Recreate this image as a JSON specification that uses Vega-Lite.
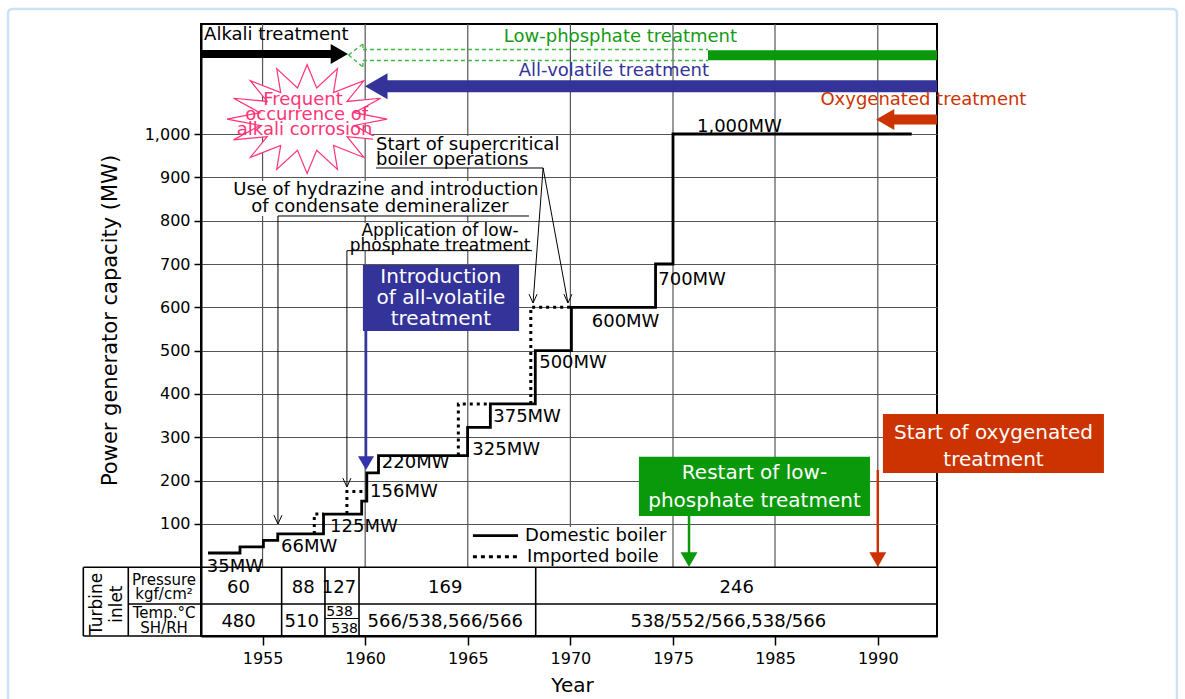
{
"$schema": "https://vega.github.io/schema/vega-lite/v6.json",
"width": 736,
"height": 612,
"autosize": {"type": "none"},
"padding": {"left": 201, "top": 24, "right": 248, "bottom": 63},
"background": "white",
"config": {
  "font": "DejaVu Sans",
  "view": {"stroke": "black", "strokeWidth": 2},
  "axis": {"domainColor": "black", "domainWidth": 2, "tickColor": "black", "tickWidth": 1.5, "labelColor": "black", "titleColor": "black", "labelFont": "DejaVu Sans", "titleFont": "DejaVu Sans", "titleFontWeight": "normal"}
},
"encoding": {
  "x": {"field": "x", "type": "quantitative",
    "scale": {"domain": [1952, 1975, 1985, 1992.88], "range": [0, 472, 574, 736], "nice": false, "zero": false},
    "axis": {"values": [1955, 1960, 1965, 1970, 1975, 1985, 1990], "format": "d", "grid": false, "tickSize": 9, "labelFontSize": 16, "labelPadding": 5, "labelFlush": false, "title": "Year", "titleFontSize": 20, "titleX": 371, "titleY": 49, "titleAlign": "center", "titleBaseline": "middle"}},
  "y": {"field": "y", "type": "quantitative",
    "scale": {"domain": [-158.5, 1253.9], "nice": false, "zero": false},
    "axis": {"values": [100, 200, 300, 400, 500, 600, 700, 800, 900, 1000], "format": ",d", "grid": true, "gridColor": "#555555", "gridWidth": 1.2, "gridOpacity": 1, "tickSize": 7, "labelFontSize": 16, "labelPadding": 4, "title": "Power generator capacity (MW)", "titleFontSize": 21, "titleX": -91, "titleY": 296, "titleAngle": 270, "titleAlign": "center", "titleBaseline": "middle"}}
},
"layer": [
  {"data": {"values": [{"x": 1942.6, "x2": 2004.55, "y": 1288.5, "y2": -445}]},
   "mark": {"type": "rect", "fill": "white", "fillOpacity": 0, "stroke": "#cde1f5", "strokeWidth": 2.5, "cornerRadius": 4},
   "encoding": {"x2": {"field": "x2"}, "y2": {"field": "y2"}}},
  {"data": {"values": [{"x": 1955, "y": 0, "y2": 1253.9}, {"x": 1960, "y": 0, "y2": 1253.9}, {"x": 1965, "y": 0, "y2": 1253.9}, {"x": 1970, "y": 0, "y2": 1253.9}, {"x": 1975, "y": 0, "y2": 1253.9}, {"x": 1985, "y": 0, "y2": 1253.9}, {"x": 1990, "y": 0, "y2": 1253.9}]},
   "mark": {"type": "rule", "color": "#555555", "strokeWidth": 1.2},
   "encoding": {"y2": {"field": "y2"}}},
  {"data": {"values": [{"x": 1957.17, "y": 1034.5}]},
   "mark": {"type": "point", "shape": "M1,0L0.59,-0.08L0.92,-0.26L0.5,-0.22L0.71,-0.48L0.33,-0.33L0.38,-0.63L0.12,-0.39L0,-0.68L-0.12,-0.39L-0.38,-0.63L-0.33,-0.33L-0.71,-0.48L-0.5,-0.22L-0.92,-0.26L-0.59,-0.08L-1,0L-0.59,0.08L-0.92,0.26L-0.5,0.22L-0.71,0.48L-0.33,0.33L-0.38,0.63L-0.12,0.39L0,0.68L0.12,0.39L0.38,0.63L0.33,0.33L0.71,0.48L0.5,0.22L0.92,0.26L0.59,0.08Z", "size": 25600, "filled": true, "fill": "white", "stroke": "#ff3377", "strokeWidth": 1.2, "opacity": 1}},
  {"data": {"values": [
     {"x": 1965.06, "x2": 1974.95, "y": 93.1, "y2": 0.8},
     {"x": 1960.38, "x2": 1969.79, "y": 995.4, "y2": 921.6},
     {"x": 1953.41, "x2": 1968.62, "y": 891.6, "y2": 810.8},
     {"x": 1959.26, "x2": 1968.13, "y": 794.7, "y2": 730.8}]},
   "mark": {"type": "rect", "fill": "white"},
   "encoding": {"x2": {"field": "x2"}, "y2": {"field": "y2"}}},
  {"data": {"values": [
     {"x": 1959.89, "x2": 1967.5, "y": 697.7, "y2": 545.4, "g": "blue"},
     {"x": 1973.34, "x2": 1989.62, "y": 255.3, "y2": 118.5, "g": "gbox"},
     {"x": 1990.25, "x2": 2001.0, "y": 353.9, "y2": 217.7, "g": "orange"}]},
   "mark": {"type": "rect"},
   "encoding": {"x2": {"field": "x2"}, "y2": {"field": "y2"},
     "color": {"field": "g", "type": "nominal", "scale": {"domain": ["k", "green", "blue", "orange", "pink", "gbox", "barrow"], "range": ["#000000", "#159a15", "#333399", "#cc3300", "#ff3377", "#0a990a", "#3333aa"]}, "legend": null}}},
  {"data": {"values": [
     {"x": 1946.265, "x2": 1992.88, "y": 0, "y2": 0},
     {"x": 1948.457, "x2": 1992.88, "y": -84.6, "y2": -84.6},
     {"x": 1946.265, "x2": 1952, "y": -158.5, "y2": -158.5},
     {"x": 1946.265, "x2": 1946.265, "y": -158.5, "y2": 0},
     {"x": 1948.457, "x2": 1948.457, "y": -158.5, "y2": 0},
     {"x": 1955.93, "x2": 1955.93, "y": -158.5, "y2": 0},
     {"x": 1958.04, "x2": 1958.04, "y": -158.5, "y2": 0},
     {"x": 1959.7, "x2": 1959.7, "y": -158.5, "y2": 0},
     {"x": 1968.31, "x2": 1968.31, "y": -158.5, "y2": 0}]},
   "mark": {"type": "rule", "color": "black", "strokeWidth": 1.6},
   "encoding": {"x2": {"field": "x2"}, "y2": {"field": "y2"}}},
  {"data": {"values": [
     {"x": 1958.04, "x2": 1959.66, "y": -118.1, "y2": -118.1},
     {"x": 1960.53, "x2": 1968.67, "y": 921.6, "y2": 921.6},
     {"x": 1968.67, "x2": 1968.18, "y": 921.6, "y2": 610.0},
     {"x": 1968.67, "x2": 1969.88, "y": 921.6, "y2": 610.0},
     {"x": 1955.75, "x2": 1967.98, "y": 810.8, "y2": 810.8},
     {"x": 1955.75, "x2": 1955.75, "y": 810.8, "y2": 100},
     {"x": 1959.11, "x2": 1968.13, "y": 730.8, "y2": 730.8},
     {"x": 1959.11, "x2": 1959.11, "y": 730.8, "y2": 185.4}]},
   "mark": {"type": "rule", "color": "black", "strokeWidth": 1},
   "encoding": {"x2": {"field": "x2"}, "y2": {"field": "y2"}}},
  {"data": {"values": [
     {"x": 1959.19, "x2": 1959.89, "y": 1182.4, "y2": 1207.9},
     {"x": 1959.19, "x2": 1959.89, "y": 1182.4, "y2": 1154.7},
     {"x": 1959.89, "x2": 1959.89, "y": 1207.9, "y2": 1195.1},
     {"x": 1959.89, "x2": 1959.89, "y": 1154.7, "y2": 1169.7},
     {"x": 1959.89, "x2": 1978.43, "y": 1195.1, "y2": 1195.1},
     {"x": 1959.89, "x2": 1978.43, "y": 1169.7, "y2": 1169.7}]},
   "mark": {"type": "rule", "color": "#3cb83c", "strokeWidth": 1.3, "strokeDash": [4, 3]},
   "encoding": {"x2": {"field": "x2"}, "y2": {"field": "y2"}}},
  {"data": {"values": [{"x": 1952, "x2": 1958.6, "y": 1184.7}]},
   "mark": {"type": "rule", "color": "black", "strokeWidth": 8},
   "encoding": {"x2": {"field": "x2"}}},
  {"data": {"values": [{"x": 1978.43, "x2": 1992.88, "y": 1182.0}]},
   "mark": {"type": "rule", "color": "#0a990a", "strokeWidth": 10},
   "encoding": {"x2": {"field": "x2"}}},
  {"data": {"values": [{"x": 1960.6, "x2": 1992.88, "y": 1110.0}]},
   "mark": {"type": "rule", "color": "#333399", "strokeWidth": 12},
   "encoding": {"x2": {"field": "x2"}}},
  {"data": {"values": [{"x": 1990.4, "x2": 1992.88, "y": 1033.5}]},
   "mark": {"type": "rule", "color": "#cc3300", "strokeWidth": 10},
   "encoding": {"x2": {"field": "x2"}}},
  {"data": {"values": [
     {"x": 1960.04, "x2": 1960.04, "y": 545.4, "y2": 245, "g": "barrow"},
     {"x": 1976.57, "x2": 1976.57, "y": 118.5, "y2": 25, "g": "gbox"},
     {"x": 1990.0, "x2": 1990.0, "y": 224.6, "y2": 25, "g": "orange"}]},
   "mark": {"type": "rule", "strokeWidth": 2.5},
   "encoding": {"x2": {"field": "x2"}, "y2": {"field": "y2"},
     "color": {"field": "g", "type": "nominal", "scale": {"domain": ["k", "green", "blue", "orange", "pink", "gbox", "barrow"], "range": ["#000000", "#159a15", "#333399", "#cc3300", "#ff3377", "#0a990a", "#3333aa"]}, "legend": null}}},
  {"data": {"values": [
     {"x": 1952.34, "y": 33}, {"x": 1953.9, "y": 47}, {"x": 1955.04, "y": 62}, {"x": 1955.74, "y": 77},
     {"x": 1957.97, "y": 123}, {"x": 1959.83, "y": 153}, {"x": 1960.08, "y": 218}, {"x": 1960.65, "y": 258},
     {"x": 1964.99, "y": 323}, {"x": 1966.1, "y": 377}, {"x": 1968.29, "y": 500}, {"x": 1970.05, "y": 600},
     {"x": 1974.15, "y": 700}, {"x": 1975.0, "y": 1000}, {"x": 1991.65, "y": 1000}]},
   "mark": {"type": "line", "interpolate": "step-after", "color": "black", "strokeWidth": 2.8}},
  {"data": {"values": [
     {"s": "a", "o": 1, "x": 1957.52, "y": 77}, {"s": "a", "o": 2, "x": 1957.52, "y": 123}, {"s": "a", "o": 3, "x": 1957.97, "y": 123},
     {"s": "b", "o": 1, "x": 1959.11, "y": 123}, {"s": "b", "o": 2, "x": 1959.11, "y": 175}, {"s": "b", "o": 3, "x": 1959.9, "y": 175},
     {"s": "c", "o": 1, "x": 1964.54, "y": 258}, {"s": "c", "o": 2, "x": 1964.54, "y": 377}, {"s": "c", "o": 3, "x": 1966.1, "y": 377},
     {"s": "d", "o": 1, "x": 1968.07, "y": 377}, {"s": "d", "o": 2, "x": 1968.07, "y": 600}, {"s": "d", "o": 3, "x": 1970.05, "y": 600}]},
   "mark": {"type": "line", "color": "black", "strokeWidth": 3, "strokeDash": [3, 4]},
   "encoding": {"detail": {"field": "s"}, "order": {"field": "o"}}},
  {"data": {"values": [{"x": 1965.25, "x2": 1967.45, "y": 73.0}]},
   "mark": {"type": "rule", "color": "black", "strokeWidth": 2.8},
   "encoding": {"x2": {"field": "x2"}}},
  {"data": {"values": [{"x": 1965.25, "x2": 1967.45, "y": 24.6}]},
   "mark": {"type": "rule", "color": "black", "strokeWidth": 3, "strokeDash": [4, 4]},
   "encoding": {"x2": {"field": "x2"}}},
  {"data": {"values": [{"x": 1958.74, "y": 1184.7}]},
   "mark": {"type": "point", "shape": "triangle-right", "size": 400, "filled": true, "color": "black", "opacity": 1}},
  {"data": {"values": [{"x": 1960.54, "y": 1110.0}]},
   "mark": {"type": "point", "shape": "triangle-left", "size": 676, "filled": true, "color": "#333399", "opacity": 1}},
  {"data": {"values": [{"x": 1990.36, "y": 1033.5}]},
   "mark": {"type": "point", "shape": "triangle-left", "size": 441, "filled": true, "color": "#cc3300", "opacity": 1}},
  {"data": {"values": [{"x": 1960.04, "y": 240.6}]},
   "mark": {"type": "point", "shape": "triangle-down", "size": 256, "filled": true, "color": "#3333aa", "opacity": 1}},
  {"data": {"values": [{"x": 1976.57, "y": 17.8}]},
   "mark": {"type": "point", "shape": "triangle-down", "size": 289, "filled": true, "color": "#0a990a", "opacity": 1}},
  {"data": {"values": [{"x": 1990.0, "y": 17.8}]},
   "mark": {"type": "point", "shape": "triangle-down", "size": 289, "filled": true, "color": "#cc3300", "opacity": 1}},
  {"data": {"values": [{"x": 1955.75, "y": 100}, {"x": 1959.11, "y": 185.4}, {"x": 1968.18, "y": 610}, {"x": 1969.88, "y": 610}]},
   "mark": {"type": "point", "shape": "M-1,-2.2L0,0L1,-2.2", "size": 64, "filled": false, "color": "black", "strokeWidth": 1, "opacity": 1}},
  {"data": {"values": [
     {"x": 1972.44, "y": 1223.9, "t": "Low-phosphate treatment", "g": "green"},
     {"x": 1972.12, "y": 1145.4, "t": "All-volatile treatment", "g": "blue"},
     {"x": 1992.22, "y": 1078.5, "t": "Oxygenated treatment", "g": "orange"},
     {"x": 1956.97, "y": 1078.5, "t": "Frequent", "g": "pink"},
     {"x": 1957.15, "y": 1043.9, "t": "occurrence of", "g": "pink"},
     {"x": 1957.05, "y": 1009.3, "t": "alkali corrosion", "g": "pink"},
     {"x": 1961.01, "y": 870.8, "t": "Use of hydrazine and introduction", "g": "k"},
     {"x": 1960.72, "y": 831.6, "t": "of condensate demineralizer", "g": "k"},
     {"x": 1953.83, "y": -48.4, "t": "60", "g": "k"},
     {"x": 1956.98, "y": -48.4, "t": "88", "g": "k"},
     {"x": 1958.72, "y": -48.4, "t": "127", "g": "k"},
     {"x": 1963.9, "y": -48.4, "t": "169", "g": "k"},
     {"x": 1981.25, "y": -48.4, "t": "246", "g": "k"},
     {"x": 1953.83, "y": -125.5, "t": "480", "g": "k"},
     {"x": 1956.91, "y": -125.5, "t": "510", "g": "k"},
     {"x": 1963.9, "y": -125.5, "t": "566/538,566/566", "g": "k"},
     {"x": 1980.42, "y": -125.5, "t": "538/552/566,538/566", "g": "k"}]},
   "mark": {"type": "text", "align": "center", "baseline": "middle", "fontSize": 18},
   "encoding": {"text": {"field": "t"},
     "color": {"field": "g", "type": "nominal", "scale": {"domain": ["k", "green", "blue", "orange", "pink", "gbox", "barrow"], "range": ["#000000", "#159a15", "#333399", "#cc3300", "#ff3377", "#0a990a", "#3333aa"]}, "legend": null}}},
  {"data": {"values": [
     {"x": 1952.15, "y": 1228.5, "t": "Alkali treatment"},
     {"x": 1960.53, "y": 974.7, "t": "Start of supercritical"},
     {"x": 1960.53, "y": 940.1, "t": "boiler operations"},
     {"x": 1952.28, "y": 1.5, "t": "35MW"},
     {"x": 1955.9, "y": 47.6, "t": "66MW"},
     {"x": 1958.29, "y": 93.8, "t": "125MW"},
     {"x": 1960.24, "y": 174.6, "t": "156MW"},
     {"x": 1960.81, "y": 240.1, "t": "220MW"},
     {"x": 1965.22, "y": 270.8, "t": "325MW"},
     {"x": 1966.24, "y": 346.3, "t": "375MW"},
     {"x": 1968.48, "y": 470.9, "t": "500MW"},
     {"x": 1971.04, "y": 566.9, "t": "600MW"},
     {"x": 1974.28, "y": 663.1, "t": "700MW"},
     {"x": 1977.35, "y": 1016.2, "t": "1,000MW"},
     {"x": 1967.79, "y": 73.0, "t": "Domestic boiler"},
     {"x": 1967.89, "y": 24.6, "t": "Imported boile"}]},
   "mark": {"type": "text", "align": "left", "baseline": "middle", "fontSize": 18, "color": "black"},
   "encoding": {"text": {"field": "t"}}},
  {"data": {"values": [
     {"x": 1963.69, "y": 670.0, "t": "Introduction"},
     {"x": 1963.69, "y": 620.4, "t": "of all-volatile"},
     {"x": 1963.69, "y": 573.1, "t": "treatment"},
     {"x": 1982.99, "y": 218.4, "t": "Restart of low-"},
     {"x": 1982.99, "y": 153.8, "t": "phosphate treatment"},
     {"x": 1995.63, "y": 310.7, "t": "Start of oxygenated"},
     {"x": 1995.63, "y": 247.7, "t": "treatment"}]},
   "mark": {"type": "text", "align": "center", "baseline": "middle", "fontSize": 20, "color": "white"},
   "encoding": {"text": {"field": "t"}}},
  {"data": {"values": [
     {"x": 1963.65, "y": 776.2, "t": "Application of low-"},
     {"x": 1963.65, "y": 741.6, "t": "phosphate treatment"}]},
   "mark": {"type": "text", "align": "center", "baseline": "middle", "fontSize": 17, "color": "black"},
   "encoding": {"text": {"field": "t"}}},
  {"data": {"values": [
     {"x": 1950.2, "y": -29.2, "t": "Pressure"},
     {"x": 1950.2, "y": -62.2, "t": "kgf/cm²"},
     {"x": 1950.2, "y": -105.4, "t": "Temp.°C"},
     {"x": 1950.2, "y": -140.7, "t": "SH/RH"}]},
   "mark": {"type": "text", "align": "center", "baseline": "middle", "fontSize": 15, "color": "black"},
   "encoding": {"text": {"field": "t"}}},
  {"data": {"values": [
     {"x": 1958.75, "y": -102.4, "t": "538"},
     {"x": 1959.0, "y": -143.0, "t": "538"}]},
   "mark": {"type": "text", "align": "center", "baseline": "middle", "fontSize": 14, "color": "black"},
   "encoding": {"text": {"field": "t"}}},
  {"data": {"values": [
     {"x": 1946.92, "y": -84.6, "t": "Turbine"},
     {"x": 1947.89, "y": -85.0, "t": "inlet"}]},
   "mark": {"type": "text", "align": "center", "baseline": "middle", "fontSize": 17, "angle": 270, "color": "black"},
   "encoding": {"text": {"field": "t"}}}
]
}
